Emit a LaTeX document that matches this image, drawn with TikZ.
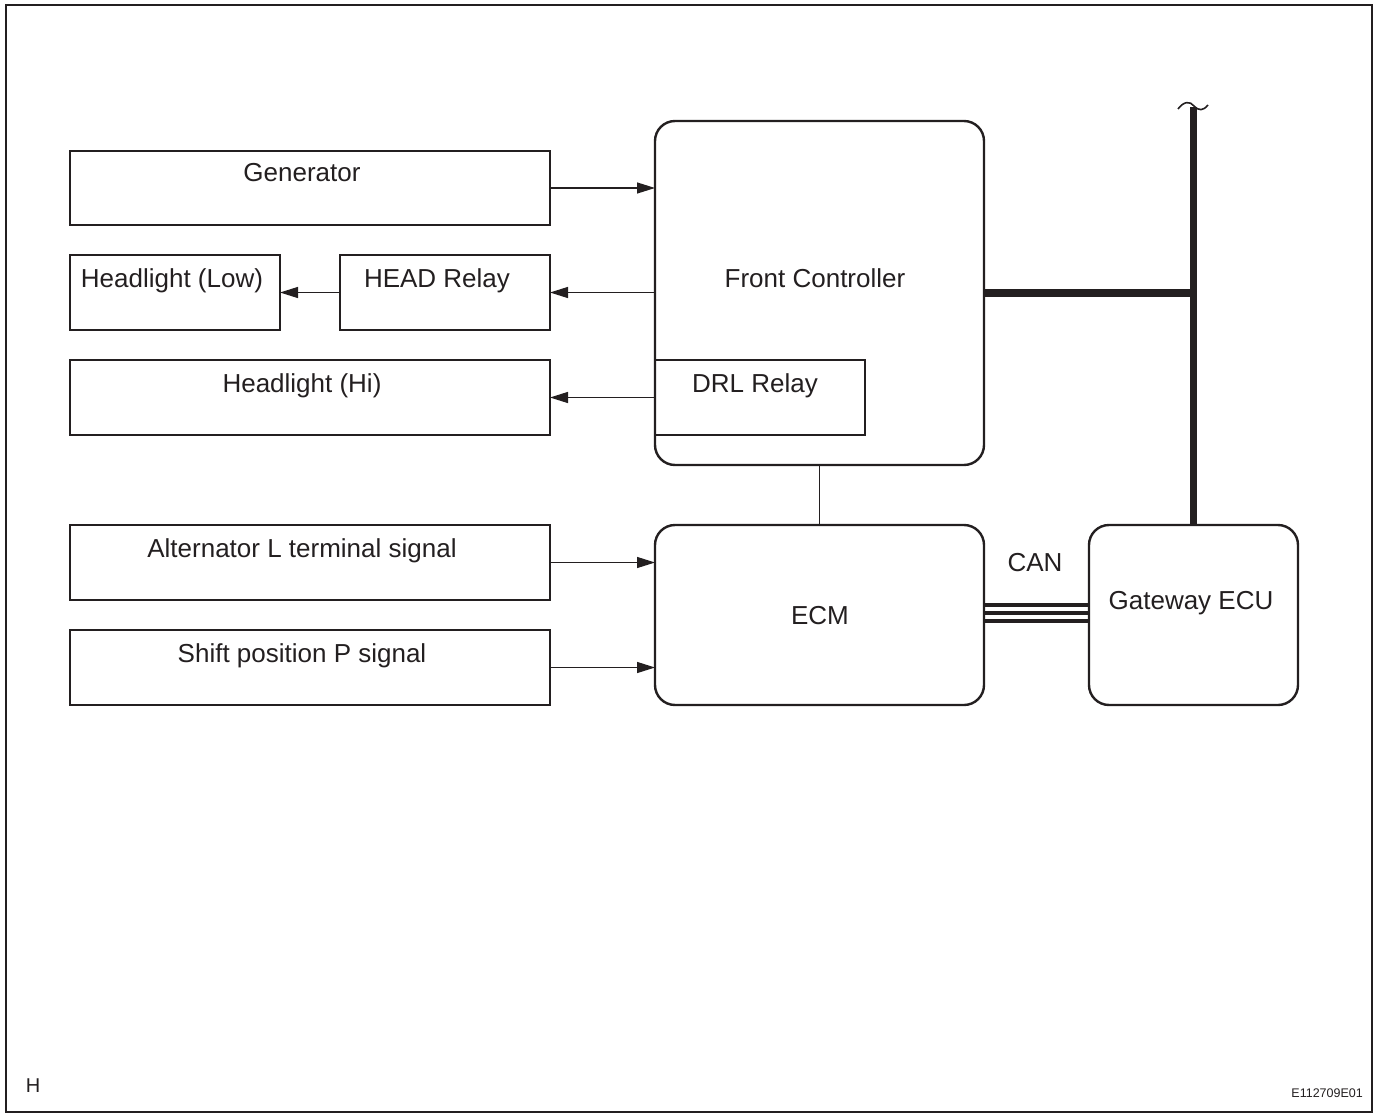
\documentclass[tikz,border=0pt]{standalone}
\usepackage{fontspec}
\setmainfont{Liberation Sans}
\usetikzlibrary{arrows.meta}
\definecolor{ink}{HTML}{231F20}
\begin{document}
\begin{tikzpicture}[x=1pt,y=-1pt,
  box/.style={draw=ink, line width=2.4pt, inner sep=0pt, outer sep=0pt, anchor=north west},
  rbox/.style={box, rounded corners=20pt},
  lbl/.style={text=ink, font=\fontsize{26}{30}\selectfont, inner sep=0pt, anchor=base},
  arr/.style={draw=ink, line width=1.3pt, -{Triangle[length=18pt,width=11pt]}},
  link/.style={draw=ink, line width=1.5pt},
  bus/.style={draw=ink, line width=7.5pt},
  canline/.style={draw=ink, line width=3.6pt}]
\useasboundingbox (0,0) rectangle (1377,1116);
\draw[ink, line width=2.6pt] (6,5) rectangle (1372,1112);

% boxes on the left
\node[box, minimum width=480pt, minimum height=74pt] (gen) at (70,151) {};
\node[box, minimum width=210pt, minimum height=75pt] (hl) at (70,255) {};
\node[box, minimum width=210pt, minimum height=75pt] (hr) at (340,255) {};
\node[box, minimum width=480pt, minimum height=75pt] (hh) at (70,360) {};
\node[box, minimum width=480pt, minimum height=75pt] (alt) at (70,525) {};
\node[box, minimum width=480pt, minimum height=75pt] (sp) at (70,630) {};

% controllers
\node[rbox, minimum width=329pt, minimum height=344pt] (fc) at (655,121) {};
\node[box, minimum width=210pt, minimum height=75pt] (drl) at (655,360) {};
\node[rbox, minimum width=329pt, minimum height=180pt] (ecm) at (655,525) {};
\node[rbox, minimum width=209pt, minimum height=180pt] (gw) at (1089,525) {};

% texts (placed by baseline)
\node[lbl] (gen-t) at (302,181) {Generator};
\node[lbl] (hl-t) at (172,287) {Headlight (Low)};
\node[lbl] (hr-t) at (437,287) {HEAD Relay};
\node[lbl] (hh-t) at (302,392) {Headlight (Hi)};
\node[lbl] (alt-t) at (302,557) {Alternator L terminal signal};
\node[lbl] (sp-t) at (302,662) {Shift position P signal};
\node[lbl] (fc-t) at (815,287) {Front Controller};
\node[lbl] (drl-t) at (755,392) {DRL Relay};
\node[lbl] (ecm-t) at (820,624) {ECM};
\node[lbl] (gw-t) at (1191,609) {Gateway ECU};
\node[lbl] (can-t) at (1035,571) {CAN};
\node[text=ink, font=\fontsize{20}{24}\selectfont, inner sep=0pt] (h-t) at (33,1086) {H};
\node[text=ink, font=\fontsize{12.5}{15}\selectfont, inner sep=0pt, anchor=east] (id-t) at (1363,1093) {E112709E01};

% signal connectors
\draw[arr] (gen.east) -- (gen.east -| fc.west);
\draw[arr] (hr.east -| fc.west) -- (hr.east);
\draw[arr] (hr.west) -- (hl.east);
\draw[arr] (drl.west) -- (hh.east);
\draw[arr] (alt.east) -- (alt.east -| ecm.west);
\draw[arr] (sp.east) -- (sp.east -| ecm.west);
\draw[link] (fc.south) -- (ecm.north);

% bus lines
\coordinate (bustop) at (1193.5,107);
\draw[bus] (bustop) -- (gw.north);
\draw[bus] (fc.east) -- (fc.east -| gw.north);
\draw[ink, line width=1.6pt] (1178,109) .. controls (1184,101) and (1190,101) .. (1194,106)
  .. controls (1199,111) and (1203,111) .. (1208,105);

% CAN lines
\foreach \yy in {605,613,621}
  \draw[canline] (ecm.east |- 0,\yy) -- (gw.west |- 0,\yy);
\end{tikzpicture}
\end{document}
